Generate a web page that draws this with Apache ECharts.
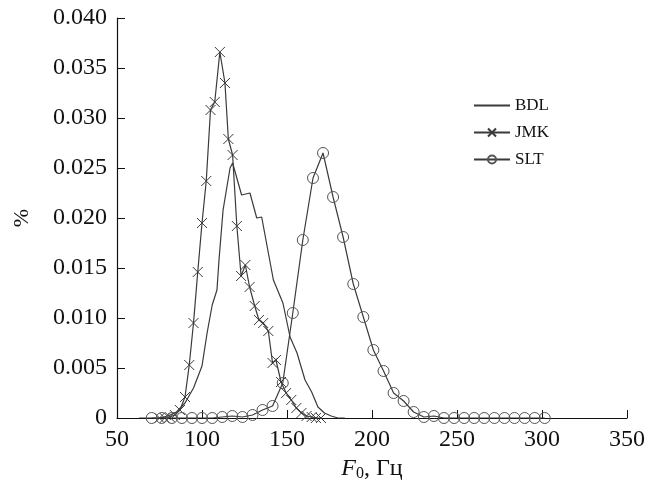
<!DOCTYPE html>
<html>
<head>
<meta charset="utf-8">
<script src="https://cdn.jsdelivr.net/npm/echarts@6/dist/echarts.min.js"></script>
<style>
  html, body { margin: 0; padding: 0; background: #fff; }
  #chart { width: 659px; height: 490px; }
</style>
</head>
<body>
<div id="chart"></div>
<script>
// F0 distributions for three speakers
const bdlX = [63, 70, 75, 80, 85, 90, 95, 100, 103, 106, 108.8, 110, 112.4, 116.5, 118, 123.3, 128.2, 132.2, 135.1, 142, 147.6, 151.8, 155.9, 160.6, 164.5, 168.2, 172, 176, 180, 184];
const bdlY = [0, 0, 0, 0.0002, 0.0006, 0.0015, 0.003, 0.0052, 0.0085, 0.0113, 0.0128, 0.0158, 0.0208, 0.025, 0.0255, 0.0223, 0.0225, 0.0200, 0.0201, 0.0138, 0.0115, 0.0081, 0.0065, 0.0038, 0.0026, 0.0011, 0.0005, 0.0002, 0, 0];

const jmkX = [75, 78, 81, 84, 87, 90, 92.5, 95, 97.5, 100, 102.5, 105, 107.5, 110.5, 113.5, 115.5, 118, 120.5, 123, 125.5, 128, 131, 133.5, 136, 139, 141.5, 143.5, 146.5, 149.5, 152.5, 155.5, 158.5, 161.5, 164.5, 167, 170];
const jmkY = [0, 0, 0.0001, 0.0003, 0.0008, 0.0021, 0.0053, 0.0095, 0.0146, 0.0195, 0.0237, 0.0308, 0.0316, 0.0366, 0.0335, 0.0279, 0.0263, 0.0192, 0.0142, 0.0153, 0.0131, 0.0112, 0.0098, 0.0095, 0.0087, 0.0055, 0.0058, 0.0036, 0.0025, 0.0018, 0.001, 0.0005, 0.0002, 0.0001, 0, 0];

const sltX = [70.4, 76.3, 82.3, 88.2, 94.1, 100.0, 106.0, 111.9, 117.8, 123.8, 129.7, 135.6, 141.5, 147.5, 153.4, 159.3, 165.3, 171.2, 177.1, 183.0, 189.0, 194.9, 200.8, 206.8, 212.7, 218.6, 224.5, 230.5, 236.4, 242.3, 248.3, 254.2, 260.1, 266.0, 272.0, 277.9, 283.8, 289.8, 295.7, 301.6];
const sltY = [0, 0, 0, 0, 0, 0, 0, 0.0001, 0.0002, 0.0001, 0.0003, 0.0008, 0.0012, 0.0035, 0.0105, 0.0178, 0.024, 0.0265, 0.0221, 0.0181, 0.0134, 0.0101, 0.0068, 0.0047, 0.0025, 0.0017, 0.0006, 0.0001, 0.0002, 0, 0, 0, 0, 0, 0, 0, 0, 0, 0, 0];

const seriesNames = ['BDL', 'JMK', 'SLT'];

const pair = (xs, ys) => xs.map((x, i) => [x, ys[i]]);
const ink = '#3a3a3a';
const serif = '"Liberation Serif", "DejaVu Serif", serif';

const chart = echarts.init(document.getElementById('chart'), null, { renderer: 'canvas' });
chart.setOption({
  animation: false,
  backgroundColor: '#fff',
  grid: { left: 117, right: 32, top: 18, bottom: 72, containLabel: false, outerBoundsMode: 'none' },
  legend: {
    orient: 'vertical',
    left: 468,
    top: 92,
    itemWidth: 36,
    itemHeight: 10,
    itemGap: 10,
    textStyle: { fontFamily: serif, fontSize: 17, color: '#111' },
    data: [
      // plain line entry: hide the legend symbol, keep the line
      { name: seriesNames[0], itemStyle: { opacity: 0 } },
      seriesNames[1],
      seriesNames[2]
    ]
  },
  xAxis: {
    type: 'value',
    min: 50, max: 350, interval: 50,
    name: '{i|F}{s|0}{n|, Гц}',
    nameLocation: 'middle',
    nameGap: 31,
    nameTextStyle: {
      rich: {
        i: { fontFamily: serif, fontSize: 24, fontStyle: 'italic', color: '#111' },
        s: { fontFamily: serif, fontSize: 16, color: '#111', verticalAlign: 'bottom', padding: [10, 0, 0, 0] },
        n: { fontFamily: serif, fontSize: 24, color: '#111' }
      }
    },
    axisLine: { lineStyle: { color: '#111', width: 1.2 } },
    axisTick: { inside: true, length: 8, lineStyle: { color: '#111' } },
    axisLabel: { fontFamily: serif, fontSize: 24, color: '#111', margin: 10 },
    splitLine: { show: false }
  },
  yAxis: {
    type: 'value',
    min: 0, max: 0.04, interval: 0.005,
    name: '%',
    nameLocation: 'middle',
    nameGap: 84,
    nameRotate: 90,
    nameTextStyle: { fontFamily: serif, fontSize: 22, color: '#111' },
    axisLine: { show: true, lineStyle: { color: '#111', width: 1.2 } },
    axisTick: { show: true, inside: true, length: 8, lineStyle: { color: '#111' } },
    axisLabel: {
      fontFamily: serif, fontSize: 24, color: '#111', margin: 10,
      formatter: v => (v === 0 ? '0' : v.toFixed(3))
    },
    splitLine: { show: false }
  },
  series: [
    {
      name: seriesNames[0],
      type: 'line',
      data: pair(bdlX, bdlY),
      showSymbol: false,
      symbol: 'none',
      lineStyle: { color: ink, width: 1.2 },
      itemStyle: { color: ink }
    },
    {
      name: seriesNames[1],
      type: 'line',
      data: pair(jmkX, jmkY),
      symbol: 'path://M0,0L10,10M10,0L0,10',
      symbolSize: 10,
      showAllSymbol: true,
      lineStyle: { color: ink, width: 1.2 },
      itemStyle: { color: 'none', borderColor: ink, borderWidth: 1 }
    },
    {
      name: seriesNames[2],
      type: 'line',
      data: pair(sltX, sltY),
      symbol: 'circle',
      symbolSize: 11,
      showAllSymbol: true,
      lineStyle: { color: ink, width: 1.2 },
      itemStyle: { color: 'rgba(255,255,255,0)', borderColor: '#555', borderWidth: 1 }
    }
  ]
});
</script>
</body>
</html>
